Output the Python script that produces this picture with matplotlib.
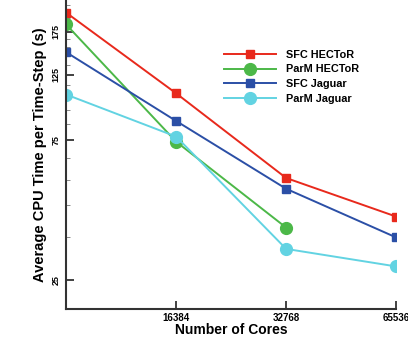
import matplotlib
matplotlib.use("Agg")
import matplotlib.pyplot as plt
from matplotlib.ticker import FixedLocator, NullFormatter, FixedFormatter

plt.rcParams['font.family'] = ['Liberation Sans', 'DejaVu Sans']

cores = [8192, 16384, 32768, 65536]
sfc_hector = [203, 108, 55.7, 41.2]
parm_hector_x = [8192, 16384, 32768]
parm_hector = [185, 74, 37.8]
sfc_jaguar = [149, 87, 51.2, 35.0]
parm_jaguar = [107, 77, 32.0, 27.9]

xticks = [16384, 32768, 65536]
xticklabels = ["16384", "32768", "65536"]
yticks = [25, 75, 125, 175]
yticklabels = ["25", "75", "125", "175"]
yminor = [35, 45, 55, 65, 85, 95, 105, 115, 135, 145, 155, 165, 185, 195, 205, 215]

fig = plt.figure(figsize=(4.08, 3.48), dpi=100)
ax = fig.add_axes([0.162, 0.112, 0.809, 0.888])
ax.set_xscale('log', base=2)
ax.set_yscale('log')

ax.plot(cores, sfc_hector, color='#e8291c', lw=1.4, marker='s', ms=6, label='SFC HECToR')
ax.plot(parm_hector_x, parm_hector, color='#4cb848', lw=1.4, marker='o', ms=8.5, label='ParM HECToR')
ax.plot(cores, sfc_jaguar, color='#2b4fa6', lw=1.4, marker='s', ms=6, label='SFC Jaguar')
ax.plot(cores, parm_jaguar, color='#62d3e2', lw=1.4, marker='o', ms=8.5, label='ParM Jaguar')

ax.set_xlim(8192, 65536)
ax.set_ylim(20, 224)

ax.xaxis.set_major_locator(FixedLocator(xticks))
ax.xaxis.set_major_formatter(FixedFormatter(xticklabels))
ax.xaxis.set_minor_locator(FixedLocator([]))
ax.yaxis.set_major_locator(FixedLocator(yticks))
ax.yaxis.set_major_formatter(FixedFormatter(yticklabels))
ax.yaxis.set_minor_locator(FixedLocator(yminor))
ax.yaxis.set_minor_formatter(NullFormatter())

for s in ['top', 'right']:
    ax.spines[s].set_visible(False)
for s in ['left', 'bottom']:
    ax.spines[s].set_linewidth(1.5)
    ax.spines[s].set_color('#333333')

ax.tick_params(axis='both', which='major', direction='in', length=6, width=1.3, color='#333333')
ax.tick_params(axis='y', which='minor', direction='in', length=3, width=0.6, color='#777777')
ax.tick_params(axis='x', labelsize=7, pad=3)
ax.tick_params(axis='y', labelsize=6.5, pad=4)
for lab in ax.get_xticklabels():
    lab.set_fontweight('bold')
for lab in ax.get_yticklabels():
    lab.set_fontweight('bold')
    lab.set_rotation(90)
    lab.set_va('center')

ax.set_xlabel('Number of Cores', fontsize=10, fontweight='bold', labelpad=0)
ax.set_ylabel('Average CPU Time per Time-Step (s)', fontsize=10.5, fontweight='bold', labelpad=3)

leg = ax.legend(loc='upper left', bbox_to_anchor=(0.45, 0.87), frameon=False,
                prop={'weight': 'bold', 'size': 7.8}, handlelength=4.8,
                labelspacing=0.42, handletextpad=0.9)

fig.savefig('out.png', dpi=100)
